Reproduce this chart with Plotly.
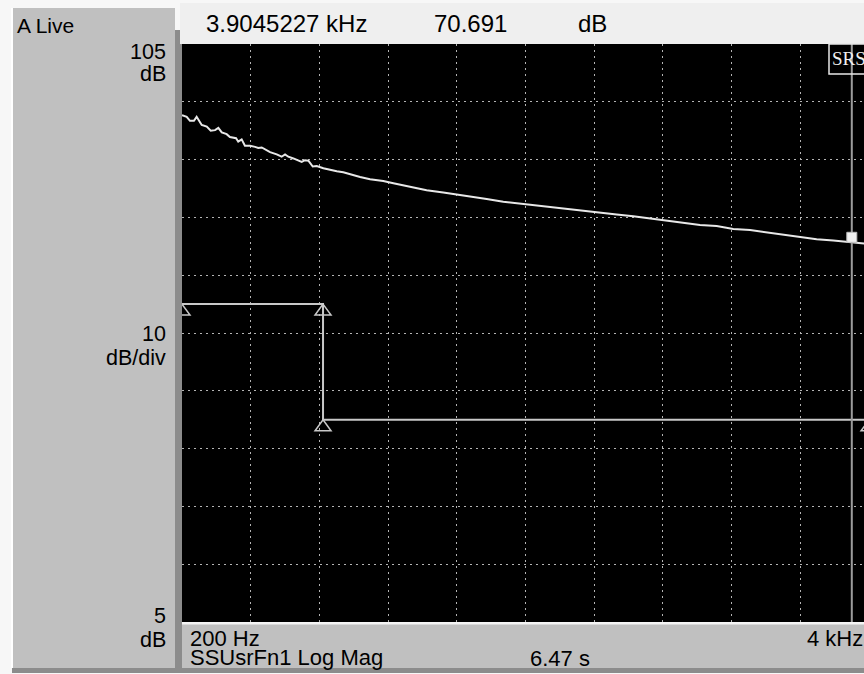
import plotly.graph_objects as go

# ---------------- data ----------------
freq_hz = [200, 226, 244, 266, 281, 309, 337, 359, 383, 401, 420, 447, 465, 499, 511,
           530, 548, 576, 604, 622, 641, 659, 687, 724, 751, 770, 788, 816, 843, 862,
           880, 899, 923, 945, 982, 1019, 1056, 1092, 1147, 1185, 1240, 1313, 1369, 1461,
           1553, 1645, 1719, 1793, 1885, 1977, 2088, 2180, 2291, 2383, 2475, 2567, 2604,
           2696, 2788, 2881, 2973, 3065, 3157, 3249, 3342, 3434, 3526, 3618, 3710, 3802,
           3876, 3904.5, 3950, 4000]
mag_db = [92.7, 92.4, 91.7, 91.7, 92.4, 91.0, 90.7, 90.0, 90.1, 90.5, 89.7, 89.4, 88.9, 88.7, 88.1,
          88.5, 87.4, 87.4, 87.2, 87.0, 87.1, 86.8, 86.3, 85.9, 85.5, 85.9, 85.5, 85.2, 84.9, 84.6,
          84.9, 84.8, 83.8, 83.9, 83.5, 83.2, 83.0, 82.8, 82.3, 82.0, 81.6, 81.3, 80.9, 80.3,
          79.7, 79.3, 79.0, 78.6, 78.2, 77.7, 77.3, 77.0, 76.6, 76.2, 75.9, 75.6, 75.5,
          75.2, 74.8, 74.4, 74.1, 73.7, 73.5, 73.0, 72.8, 72.4, 72.0, 71.6, 71.2, 71.0,
          70.8, 70.691, 70.5, 70.4]

limit_freq = [200, 980, 980, 4000]
limit_db = [60, 60, 40, 40]

marker_freq = 3904.5
marker_db = 70.691

x_start, x_stop, x_div = 200, 4000, 380
y_bottom, y_top, y_div = 5, 105, 10

trace_label = "A Live"
readout_freq = "3.9045227 kHz"
readout_val = "70.691"
readout_unit = "dB"
y_top_label = ["105", "dB"]
y_mid_label = ["10", "dB/div"]
y_bot_label = ["5", "dB"]
x_start_label = "200 Hz"
x_stop_label = "4 kHz"
meas_label = "SSUsrFn1 Log Mag"
time_label = "6.47 s"
badge = "SRS"

# ---------------- layout geometry ----------------
W, H = 864, 674
L, R, T, B = 182, 0, 44, 52
PW, PH = W - L - R, H - T - B
x_view_stop = 3972  # visible right edge (screen is cut just before 4 kHz)


def px(xp):
    return (xp - L) / PW


def py(yp):
    return 1 - (yp - T) / PH


FONT = "Liberation Sans, Arial, sans-serif"
fs = 21.5

fig = go.Figure()

fig.add_trace(go.Scatter(x=limit_freq, y=limit_db, mode="lines",
                         line=dict(color="#c8c8c8", width=2), hoverinfo="skip"))
fig.add_trace(go.Scatter(x=freq_hz, y=mag_db, mode="lines",
                         line=dict(color="#e8e8e8", width=2), hoverinfo="skip"))

shapes = []
# panels
shapes.append(dict(type="rect", xref="paper", yref="paper", x0=px(12), x1=px(175), y0=py(668), y1=py(8),
                   fillcolor="#c0c0c0", line=dict(width=0), layer="below"))
shapes.append(dict(type="line", xref="paper", yref="paper", x0=px(12), x1=px(12), y0=py(668), y1=py(8),
                   line=dict(color="#ffffff", width=2), layer="below"))
shapes.append(dict(type="rect", xref="paper", yref="paper", x0=px(175), x1=px(182), y0=py(673), y1=py(30),
                   fillcolor="#8c8c8c", line=dict(width=0), layer="below"))
shapes.append(dict(type="rect", xref="paper", yref="paper", x0=px(12), x1=px(864), y0=py(673), y1=py(668),
                   fillcolor="#8c8c8c", line=dict(width=0), layer="below"))
shapes.append(dict(type="rect", xref="paper", yref="paper", x0=px(180), x1=px(864), y0=py(44), y1=py(3),
                   fillcolor="#efefef", line=dict(width=0), layer="below"))
shapes.append(dict(type="rect", xref="paper", yref="paper", x0=px(182), x1=px(864), y0=py(668), y1=py(624),
                   fillcolor="#c0c0c0", line=dict(width=0), layer="below"))
shapes.append(dict(type="line", xref="paper", yref="paper", x0=px(182), x1=px(864), y0=py(623.5), y1=py(623.5),
                   line=dict(color="#f4f4f4", width=2), layer="below"))

# limit-line triangles (apex on the limit point)
for f, d in zip(limit_freq, limit_db):
    shapes.append(dict(type="path", xref="x", yref="y", xsizemode="pixel", ysizemode="pixel",
                       xanchor=f, yanchor=d, path="M0,0 L8,-11 L-8,-11 Z",
                       line=dict(color="#c8c8c8", width=1.5), fillcolor="rgba(0,0,0,0)", layer="above"))

# marker line & marker square
shapes.append(dict(type="line", xref="x", yref="paper", x0=marker_freq, x1=marker_freq, y0=0, y1=1,
                   line=dict(color="#9c9c9c", width=2), layer="above"))
shapes.append(dict(type="rect", xref="x", yref="y", xsizemode="pixel", ysizemode="pixel",
                   xanchor=marker_freq, yanchor=marker_db, x0=-5, x1=5, y0=0, y1=10,
                   fillcolor="#f0f0f0", line=dict(color="#bdbdbd", width=1), layer="above"))

# SRS badge box
shapes.append(dict(type="rect", xref="paper", yref="paper", x0=px(829), x1=px(872), y0=py(74), y1=py(44),
                   fillcolor="rgba(0,0,0,0)", line=dict(color="#e8e8e8", width=1.5), layer="above"))

fig.update_layout(shapes=shapes)

ann = []


def text(s, xp, yp, xanchor="left", size=fs, color="#000000", family=FONT):
    ann.append(dict(text=s, x=px(xp), y=py(yp), xref="paper", yref="paper", showarrow=False,
                    xanchor=xanchor, yanchor="middle", font=dict(size=size, color=color, family=family)))


text(trace_label, 15, 26, size=21)
text(y_top_label[0], 168, 51.5, "right")
text(y_top_label[1], 168, 74, "right")
text(y_mid_label[0], 168, 334, "right")
text(y_mid_label[1], 168, 357.5, "right")
text(y_bot_label[0], 168, 615.5, "right")
text(y_bot_label[1], 168, 640, "right")
text(readout_freq, 204, 23, size=24)
text(readout_val, 432, 23, size=24)
text(readout_unit, 576, 23, size=24)
text(x_start_label, 188, 639, size=22)
text(meas_label, 188, 657, size=22)
text(time_label, 528, 658.5, size=22)
text(x_stop_label, 865, 638, "right", size=22)
text(badge, 830, 59, size=19, color="#f0f0f0", family="Liberation Serif, Times New Roman, serif")

fig.update_layout(
    annotations=ann,
    width=W, height=H,
    margin=dict(l=L, r=R, t=T, b=B, pad=0),
    paper_bgcolor="#f7f7f7",
    plot_bgcolor="#000000",
    showlegend=False,
    xaxis=dict(range=[x_start, x_view_stop], tick0=x_start, dtick=x_div, showticklabels=False,
               ticks="", showgrid=True, gridcolor="#b4b4b4", gridwidth=1, griddash="2px,4px",
               zeroline=False, showline=False, fixedrange=True),
    yaxis=dict(range=[y_bottom, y_top], tick0=y_bottom, dtick=y_div, showticklabels=False,
               ticks="", showgrid=True, gridcolor="#b4b4b4", gridwidth=1, griddash="2px,4px",
               zeroline=False, showline=False, fixedrange=True),
)

fig.write_html("out.html", config={"displayModeBar": False},
               post_script="document.body.style.margin='0';document.body.style.overflow='hidden';")
